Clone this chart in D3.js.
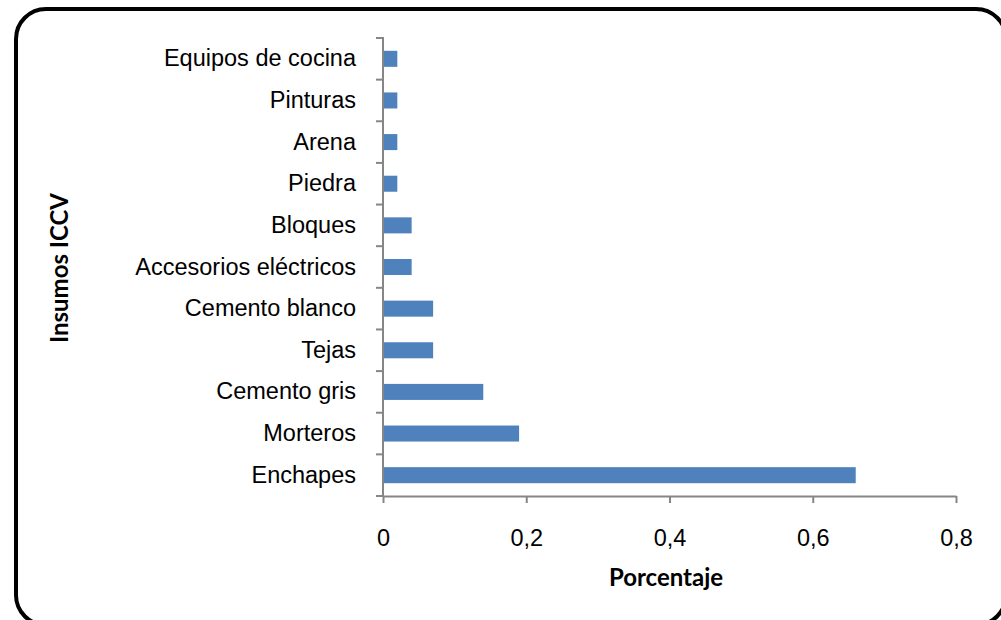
<!DOCTYPE html>
<html>
<head>
<meta charset="utf-8">
<script src="https://cdn.jsdelivr.net/npm/d3@7"></script>
<style>
  body { margin: 0; background: #fff; }
  svg { display: block; font-family: Lato, "Open Sans", sans-serif; }
</style>
</head>
<body>
<script>
const w = 1001;
const h = 620;

// data (top to bottom as drawn)
const insumos = ["Equipos de cocina", "Pinturas", "Arena", "Piedra", "Bloques",
  "Accesorios eléctricos", "Cemento blanco", "Tejas", "Cemento gris", "Morteros", "Enchapes"];
const porcentaje = [0.02, 0.02, 0.02, 0.02, 0.04, 0.04, 0.07, 0.07, 0.14, 0.19, 0.66];
const xTicks = [0, 0.2, 0.4, 0.6, 0.8];

const data = insumos.map((d, i) => ({ name: d, value: porcentaje[i] }));

const svg = d3.select("body").append("svg").attr("width", w).attr("height", h);

// frame
svg.append("rect")
  .attr("x", 16).attr("y", 9)
  .attr("width", 990).attr("height", 616)
  .attr("rx", 30).attr("ry", 30)
  .style("fill", "#fff")
  .style("stroke", "#000")
  .style("stroke-width", 4);

// scales
const xScale = d3.scaleLinear().domain([0, 0.8]).range([383, 956]);
const yScale = d3.scaleBand().domain(insumos).range([38, 496]).paddingInner(0.615).paddingOuter(0.3075);

// bars
svg.selectAll(".bar")
  .data(data)
  .enter()
  .append("rect")
  .attr("class", "bar")
  .attr("x", xScale(0) + 1)
  .attr("y", (d) => yScale(d.name))
  .attr("width", (d) => xScale(d.value) - xScale(0) - 1)
  .attr("height", yScale.bandwidth())
  .style("fill", "#4F81BD");

// axes
const xAxis = d3.axisBottom(xScale).tickValues(xTicks).tickSize(7).tickSizeOuter(0)
  .tickFormat((d) => d3.format("")(d).replace(".", ","));
const yAxis = d3.axisLeft(yScale).tickSize(0);

const gx = svg.append("g")
  .attr("transform", "translate(0,496)")
  .call(xAxis);
gx.select(".domain").style("stroke", "#868686").style("stroke-width", 2);
gx.selectAll(".tick line").style("stroke", "#868686").style("stroke-width", 2);
gx.selectAll(".tick text").attr("y", 50).attr("dy", 0).style("font-size", "23.5px").style("fill", "#000");

const gy = svg.append("g")
  .attr("transform", "translate(383,0)")
  .call(yAxis);
gy.select(".domain").attr("d", "M-7,38H0V496H-7").style("stroke", "#868686").style("stroke-width", 2).style("fill", "none");
gy.selectAll(".tick text").attr("x", -27).style("font-size", "23.5px").style("fill", "#000");

// category separator ticks
const bounds = d3.range(insumos.length + 1).map((i) => 38 + i * (458 / insumos.length));
svg.selectAll(".ytick")
  .data(bounds)
  .enter()
  .append("line")
  .attr("class", "ytick")
  .attr("x1", 376).attr("x2", 383)
  .attr("y1", (d) => d).attr("y2", (d) => d)
  .style("stroke", "#868686").style("stroke-width", 2);

// axis titles
svg.append("text")
  .attr("x", 666).attr("y", 586)
  .attr("text-anchor", "middle")
  .style("font-size", "24px").style("font-weight", "bold")
  .text("Porcentaje");

svg.append("text")
  .attr("transform", "translate(68,268) rotate(-90)")
  .attr("text-anchor", "middle")
  .style("font-size", "24px").style("font-weight", "bold")
  .text("Insumos ICCV");
</script>
</body>
</html>
